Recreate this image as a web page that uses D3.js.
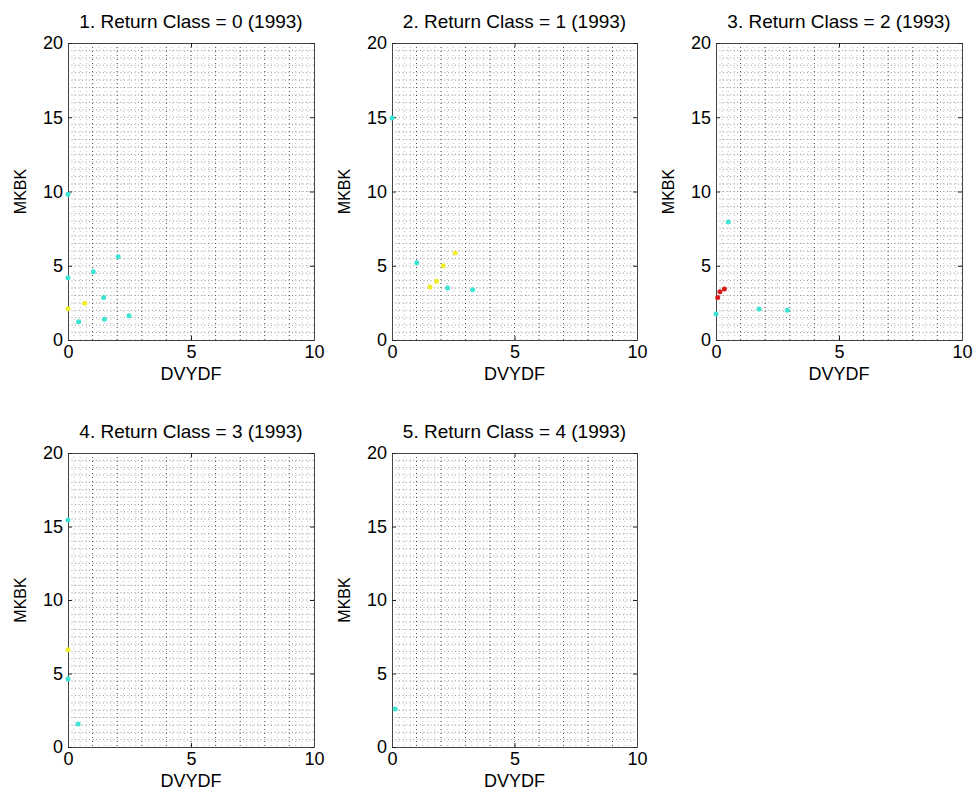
<!DOCTYPE html>
<html>
<head>
<meta charset="utf-8">
<script src="https://cdn.jsdelivr.net/npm/d3@7"></script>
<style>
  body { margin: 0; background: #fff; }
  text { font-family: "Liberation Sans", Arial, sans-serif; fill: #000; }
</style>
</head>
<body>
<script>
var width = 976,
    height = 800;

// panel titles
const titles = [
  "1. Return Class = 0 (1993)",
  "2. Return Class = 1 (1993)",
  "3. Return Class = 2 (1993)",
  "4. Return Class = 3 (1993)",
  "5. Return Class = 4 (1993)"
];

// DVYDF / MKBK values, by colour group
const cyanX = [
  [0, 0, 1.03, 2.04, 1.45, 0.43, 1.48, 2.48],
  [0, 1.01, 2.27, 3.29],
  [0.5, 0, 1.75, 2.9],
  [0, 0, 0.41],
  [0.13]
];
const cyanY = [
  [9.82, 4.2, 4.6, 5.61, 2.87, 1.23, 1.39, 1.64],
  [14.95, 5.2, 3.5, 3.39],
  [7.95, 1.75, 2.09, 2.0],
  [15.45, 4.63, 1.56],
  [2.58]
];
const yellowX = [[0.68, 0], [2.58, 2.09, 1.82, 1.55], [], [0], []];
const yellowY = [[2.48, 2.1], [5.86, 5.0, 3.95, 3.57], [], [6.62], []];
const redX = [[], [], [0.07, 0.16, 0.34], [], []];
const redY = [[], [], [2.87, 3.25, 3.43], [], []];

const xTicks = [0, 5, 10];
const yTicks = [0, 5, 10, 15, 20];

const groups = [
  { xs: cyanX, ys: cyanY, color: "#3de3d3" },
  { xs: yellowX, ys: yellowY, color: "#eeee2a" },
  { xs: redX, ys: redY, color: "#dd1a1a" }
];

// plot box of each panel (left, right, top, bottom)
const boxes = [
  [68, 314, 43, 340],
  [392, 637, 43, 340],
  [716, 962, 43, 340],
  [68, 314, 453, 747],
  [392, 637, 453, 747]
];

const svg = d3.select("body").append("svg")
    .attr("width", width)
    .attr("height", height);

boxes.forEach((b, i) => {
  const x = d3.scaleLinear().domain([0, 10]).range([b[0], b[1]]);
  const y = d3.scaleLinear().domain([0, 20]).range([b[3], b[2]]);
  const g = svg.append("g");

  // dotted grids: fine vertical, half-unit horizontal, darker unit vertical
  g.append("g").selectAll("line")
    .data(d3.range(0.25, 10, 0.25)).enter()
    .append("line")
    .attr("x1", d => x(d)).attr("x2", d => x(d))
    .attr("y1", b[2]).attr("y2", b[3])
    .attr("stroke", "#b4b4b4").attr("stroke-width", 0.8)
    .attr("stroke-dasharray", "1,3");
  g.append("g").selectAll("line")
    .data(d3.range(0.5, 20, 0.5)).enter()
    .append("line")
    .attr("x1", b[0]).attr("x2", b[1])
    .attr("y1", d => y(d)).attr("y2", d => y(d))
    .attr("stroke", "#777").attr("stroke-width", 0.8)
    .attr("stroke-dasharray", "1,2.5");
  g.append("g").selectAll("line")
    .data(d3.range(1, 10, 1)).enter()
    .append("line")
    .attr("x1", d => x(d)).attr("x2", d => x(d))
    .attr("y1", b[2]).attr("y2", b[3])
    .attr("stroke", "#333").attr("stroke-width", 0.8)
    .attr("stroke-dasharray", "1,3");

  // axes with inward ticks on all four sides
  const ax = (axis, tx, ty, labels) => {
    const a = g.append("g").attr("transform", `translate(${tx},${ty})`)
      .call(axis.tickSizeOuter(0).tickSizeInner(-4).tickPadding(5));
    a.select(".domain").attr("stroke", "#444");
    a.selectAll(".tick line").attr("stroke", "#222");
    a.selectAll("text").attr("font-size", 18).style("font-family", "Liberation Sans, Arial, sans-serif");
    if (!labels) a.selectAll("text").remove();
  };
  ax(d3.axisBottom(x).tickValues(xTicks).tickFormat(d3.format("d")), 0, b[3], true);
  ax(d3.axisTop(x).tickValues(xTicks), 0, b[2], false);
  ax(d3.axisLeft(y).tickValues(yTicks).tickFormat(d3.format("d")), b[0], 0, true);
  ax(d3.axisRight(y).tickValues(yTicks), b[1], 0, false);

  // points
  groups.forEach(grp => {
    const pts = grp.xs[i].map((v, k) => [v, grp.ys[i][k]]);
    g.append("g").selectAll("circle")
      .data(pts).enter()
      .append("circle")
      .attr("cx", d => x(d[0]))
      .attr("cy", d => y(d[1]))
      .attr("r", 2.5)
      .attr("fill", grp.color);
  });

  // labels
  g.append("text")
    .attr("x", (b[0] + b[1]) / 2).attr("y", b[2] - 15)
    .attr("text-anchor", "middle").attr("font-size", 19)
    .text(titles[i]);
  g.append("text")
    .attr("x", (b[0] + b[1]) / 2).attr("y", b[3] + 40)
    .attr("text-anchor", "middle").attr("font-size", 18)
    .text("DVYDF");
  g.append("text")
    .attr("transform", `translate(${b[0] - 42},${(b[2] + b[3]) / 2}) rotate(-90)`)
    .attr("text-anchor", "middle").attr("font-size", 16)
    .text("MKBK");
});
</script>
</body>
</html>
